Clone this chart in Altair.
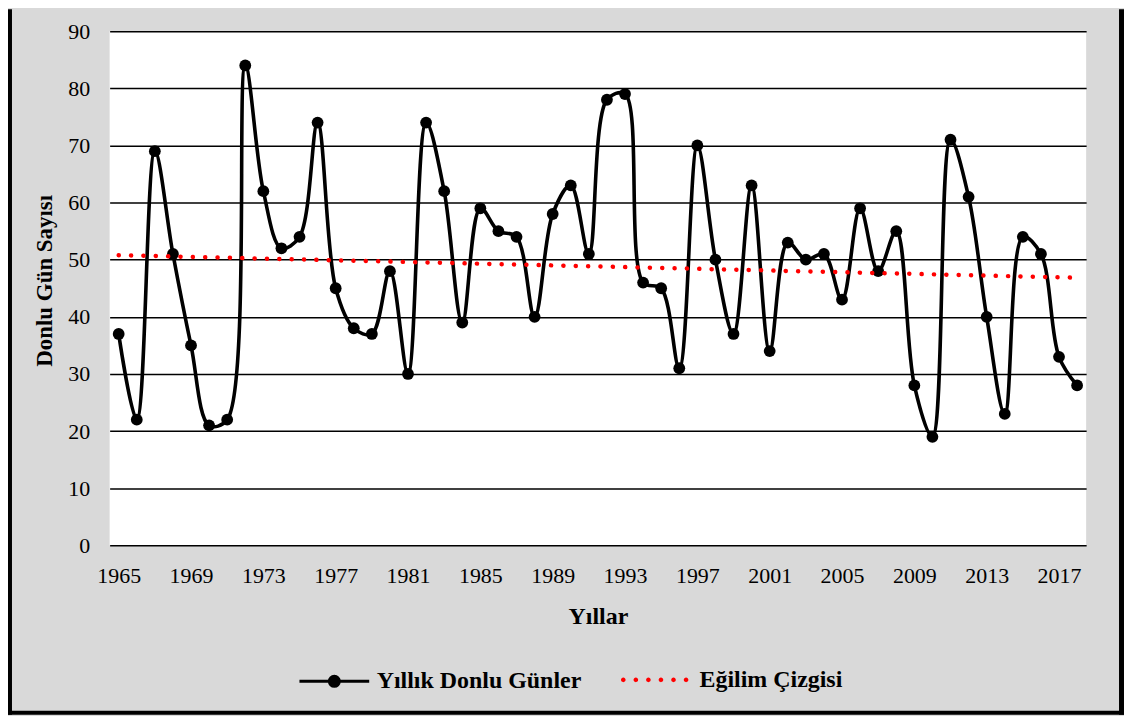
import altair as alt
import pandas as pd

# ---- data ----
years = list(range(1965, 2019))
values = [37, 22, 69, 51, 35, 21, 22, 84, 62, 52,
          54, 74, 45, 38, 37, 48, 30, 74, 62, 39,
          59, 55, 54, 40, 58, 63, 51, 78, 79, 46,
          45, 31, 70, 50, 37, 63, 34, 53, 50, 51,
          43, 59, 48, 55, 28, 19, 71, 61, 40, 23,
          54, 51, 33, 28]
x_tick_values = list(range(1965, 2018, 4))
y_tick_values = list(range(0, 91, 10))
series_name = "Yıllık Donlu Günler"
trend_name = "Eğilim Çizgisi"
x_title = "Yıllar"
y_title = "Donlu Gün Sayısı"

df = pd.DataFrame({"year": years, "value": values, "series": series_name})

FONT = "Liberation Serif"
W, H = 980, 516

x_enc = alt.X(
    "year:Q",
    scale=alt.Scale(domain=[1964.5, 2018.5], nice=False, zero=False),
    axis=alt.Axis(
        values=x_tick_values, format="d", grid=False, domain=False, ticks=False,
        labelFont=FONT, labelFontSize=22, labelColor="black", labelPadding=20,
        title=x_title, titleFont=FONT, titleFontSize=24, titleFontWeight="bold",
        titleColor="black", titleY=78, titleBaseline="alphabetic",
    ),
)
y_enc = alt.Y(
    "value:Q",
    scale=alt.Scale(domain=[0, 90], nice=False),
    axis=alt.Axis(
        values=y_tick_values, grid=True, gridColor="black", gridWidth=1.5, gridOpacity=1,
        domain=False, ticks=False,
        labelFont=FONT, labelFontSize=22, labelColor="black", labelPadding=20,
        title=y_title, titleFont=FONT, titleFontSize=23, titleFontWeight="bold",
        titleColor="black", titleX=-58, titleY=250, titleBaseline="alphabetic",
    ),
)

# custom legend symbols (unit square -1..1)
r1 = 0.143
sym_line = f"M-1,0H1M-{r1},0A{r1},{r1},0,1,1,{r1},0A{r1},{r1},0,1,1,-{r1},0Z"
r2 = 0.066
sym_dots = ""
for c in [-0.9, -0.54, -0.18, 0.18, 0.54, 0.9]:
    sym_dots += f"M{c - r2:.3f},0A{r2},{r2},0,1,1,{c + r2:.3f},0A{r2},{r2},0,1,1,{c - r2:.3f},0Z"

legend_common = dict(
    orient="none", title=None, padding=0, symbolSize=4900,
    labelFont=FONT, labelFontSize=24, labelFontWeight="bold", labelColor="black",
    labelLimit=400, symbolOpacity=1,
)

base = alt.Chart(df)

line = base.mark_line(interpolate="catmull-rom", strokeWidth=3.6).encode(
    x=x_enc, y=y_enc,
    color=alt.Color(
        "series:N",
        scale=alt.Scale(domain=[series_name], range=["black"]),
        legend=alt.Legend(legendX=189, legendY=616, symbolType=sym_line,
                          symbolStrokeWidth=3, symbolFillColor="black",
                          labelOffset=6, **legend_common),
    ),
)

points = base.mark_circle(size=140, color="black", opacity=1).encode(x=x_enc, y=y_enc)

trend = base.transform_regression("year", "value").transform_calculate(
    series=f"'{trend_name}'"
).mark_line(strokeWidth=4.5, strokeDash=[0.1, 12.3], strokeCap="round").encode(
    x=x_enc, y=y_enc,
    color=alt.Color(
        "series:N",
        scale=alt.Scale(domain=[trend_name], range=["red"]),
        legend=alt.Legend(legendX=512, legendY=616, symbolType=sym_dots,
                          symbolStrokeWidth=0, symbolFillColor="red",
                          labelOffset=10, **legend_common),
    ),
)

frame_src = alt.Chart(pd.DataFrame({"k": [0]}))
left_border = frame_src.mark_rule(color="black", strokeWidth=4).encode(
    x=alt.value(-100), y=alt.value(-22), y2=alt.value(686))
right_border = frame_src.mark_rule(color="black", strokeWidth=5).encode(
    x=alt.value(1015.5), y=alt.value(-22), y2=alt.value(686))
bottom_border = frame_src.mark_rule(color="black", strokeWidth=4).encode(
    x=alt.value(-102), x2=alt.value(1018), y=alt.value(684))

chart = alt.layer(line, points, trend, left_border, right_border, bottom_border).resolve_scale(
    color="independent"
).properties(
    width=W, height=H,
    autosize=alt.AutoSizeParams(type="none"),
    padding={"left": 102, "top": 22, "right": 38, "bottom": 170},
    background="#d9d9d9",
).configure_view(fill="white", strokeWidth=0)

chart.save("out.html", embed_options={"renderer": "svg", "actions": False})
